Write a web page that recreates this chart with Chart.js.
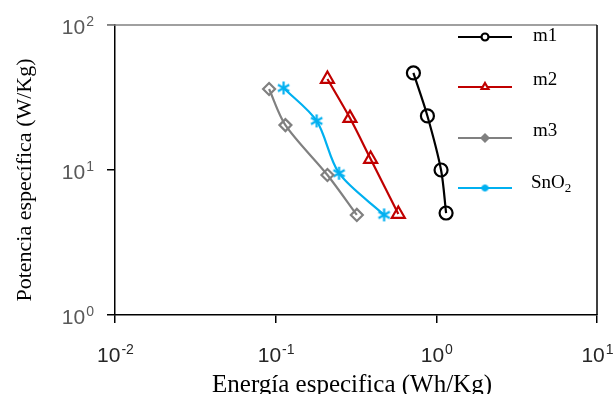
<!DOCTYPE html>
<html lang="es">
<head>
<meta charset="UTF-8">
<title>Ragone</title>
<script src="https://cdn.jsdelivr.net/npm/chart.js"></script>
<style>
  html, body { margin: 0; padding: 0; background: #fff; }
  #wrap { width: 614px; height: 394px; position: relative; }
</style>
</head>
<body>
<div id="wrap"><canvas id="ragone"></canvas></div>
<script>
// energy (Wh/Kg) and power (W/Kg) for each sample
const seriesNames = ['m1', 'm2', 'm3', 'SnO2'];
const m1Energy = [0.72, 0.88, 1.07, 1.15];
const m1Power = [46.7, 23.6, 10.0, 5.05];
const m2Energy = [0.21, 0.29, 0.39, 0.58];
const m2Power = [42.4, 22.8, 11.9, 4.97];
const m3Energy = [0.091, 0.115, 0.21, 0.32];
const m3Power = [36.2, 20.4, 9.24, 4.9];
const snEnergy = [0.112, 0.18, 0.248, 0.473];
const snPower = [36.8, 21.8, 9.5, 4.9];

const xTicks = [0.01, 0.1, 1, 10];
const yTicks = [1, 10, 100];

function pts(xs, ys) {
    return xs.map((x, i) => ({ x: x, y: ys[i] }));
}

// asterisk marker (vertical bar + two diagonals)
function asterisk(size, color, lw) {
    const c = document.createElement('canvas');
    c.width = size; c.height = size;
    const g = c.getContext('2d');
    const m = size / 2, r = size / 2 - 1;
    g.strokeStyle = color;
    g.lineWidth = lw;
    g.beginPath();
    g.moveTo(m, m - r); g.lineTo(m, m + r);
    g.moveTo(m - r * 0.87, m - r * 0.5); g.lineTo(m + r * 0.87, m + r * 0.5);
    g.moveTo(m - r * 0.87, m + r * 0.5); g.lineTo(m + r * 0.87, m - r * 0.5);
    g.stroke();
    return c;
}

const cyan = '#00B0F0';
const datasets = [
    { label: 'm1', data: pts(m1Energy, m1Power), borderColor: '#000000',
      pointStyle: 'circle', pointRadius: 6.5, tension: 0.3 },
    { label: 'm2', data: pts(m2Energy, m2Power), borderColor: '#C00000',
      pointStyle: 'triangle', pointRadius: 7.5, tension: 0.3 },
    { label: 'm3', data: pts(m3Energy, m3Power), borderColor: '#808080',
      pointStyle: 'rectRot', pointRadius: 6, tension: 0.3 },
    { label: 'SnO2', data: pts(snEnergy, snPower), borderColor: cyan,
      pointStyle: asterisk(15, cyan, 2.2), pointRadius: 7, tension: 0.3 }
].map(d => Object.assign({
    showLine: true,
    borderWidth: 2.2,
    pointBorderColor: d.borderColor,
    pointBackgroundColor: 'rgba(0,0,0,0)',
    pointBorderWidth: 2.2
}, d));

const baseFont = '21px "Liberation Sans", Arial, sans-serif';
const supFont = '14px "Liberation Sans", Arial, sans-serif';

// tick labels as 10 with a superscript exponent
function powerLabel(g, v, x, y, align, color) {
    const exp = String(Math.round(Math.log10(v)));
    g.save();
    g.fillStyle = color;
    g.textBaseline = 'alphabetic';
    g.textAlign = 'left';
    g.font = baseFont;
    const wb = g.measureText('10').width;
    g.font = supFont;
    const we = g.measureText(exp).width;
    let x0 = x;
    if (align === 'center') x0 = x - (wb + we) / 2;
    if (align === 'right') x0 = x - wb - we;
    g.font = baseFont;
    g.fillText('10', x0, y);
    g.font = supFont;
    g.fillText(exp, x0 + wb + 1, y - 8);
    g.restore();
}

const decor = {
    id: 'decor',
    afterDraw(chart) {
        const g = chart.ctx;
        const a = chart.chartArea;
        const xs = chart.scales.x, ys = chart.scales.y;

        // frame: gray top, black right
        g.save();
        g.lineWidth = 1.5;
        g.strokeStyle = '#808080';
        g.beginPath(); g.moveTo(a.left - 8, a.top); g.lineTo(a.right, a.top); g.stroke();
        g.strokeStyle = '#000';
        g.beginPath(); g.moveTo(a.right, a.top); g.lineTo(a.right, a.bottom); g.stroke();
        g.restore();

        xTicks.forEach(v => powerLabel(g, v, xs.getPixelForValue(v), a.bottom + 47, 'center', '#262626'));
        yTicks.forEach(v => powerLabel(g, v, a.left - 22, ys.getPixelForValue(v) + 9, 'right', '#595959'));

        // axis titles
        g.save();
        g.fillStyle = '#000';
        g.textAlign = 'center';
        g.textBaseline = 'alphabetic';
        g.font = '25px "Liberation Serif", "Times New Roman", serif';
        g.fillText('Energía especifica (Wh/Kg)', 352, 392);
        g.font = '22px "Liberation Serif", "Times New Roman", serif';
        g.translate(31, 180);
        g.rotate(-Math.PI / 2);
        g.fillText('Potencia específica (W/Kg)', 0, 0);
        g.restore();

        // legend
        const rows = [37, 87, 138, 188];
        const textY = [36, 80, 131, 183];
        chart.data.datasets.forEach((d, i) => {
            const y = rows[i];
            g.save();
            g.strokeStyle = d.borderColor;
            g.lineWidth = 2.2;
            g.beginPath(); g.moveTo(458, y); g.lineTo(512, y); g.stroke();
            let style = d.pointStyle;
            if (i === 3) style = asterisk(9, cyan, 2.6);
            g.fillStyle = i === 2 ? d.borderColor : '#fff';
            Chart.helpers.drawPoint(g, {
                pointStyle: style, rotation: 0, radius: i === 1 ? 4 : 3.5,
                borderWidth: 2
            }, 485, y);
            g.fillStyle = '#000';
            g.font = '19px "Liberation Serif", "Times New Roman", serif';
            g.textBaseline = 'middle';
            g.textAlign = 'left';
            if (seriesNames[i] === 'SnO2') {
                g.fillText('SnO', 531, textY[i]);
                const w = g.measureText('SnO').width;
                g.font = '13px "Liberation Serif", "Times New Roman", serif';
                g.fillText('2', 531 + w, textY[i] + 6);
            } else {
                g.fillText(seriesNames[i], 533, textY[i]);
            }
            g.restore();
        });
    }
};

new Chart(document.getElementById('ragone'), {
    type: 'scatter',
    data: { datasets: datasets },
    options: {
        responsive: true,
        maintainAspectRatio: false,
        animation: false,
        layout: { padding: { left: 107, right: 17, top: 25, bottom: 71 } },
        plugins: { legend: { display: false }, tooltip: { enabled: false } },
        scales: {
            x: {
                type: 'logarithmic', min: 0.01, max: 10,
                afterBuildTicks: s => { s.ticks = xTicks.map(v => ({ value: v })); },
                afterFit: s => { s.height = 8; },
                ticks: { display: false },
                border: { color: '#000', width: 1.5 },
                grid: { drawOnChartArea: false, drawTicks: true, tickLength: 8, color: '#000', lineWidth: 1.5 }
            },
            y: {
                type: 'logarithmic', min: 1, max: 100,
                afterBuildTicks: s => { s.ticks = yTicks.map(v => ({ value: v })); },
                afterFit: s => { s.width = 8; },
                ticks: { display: false },
                border: { color: '#000', width: 1.5 },
                grid: {
                    drawOnChartArea: false, drawTicks: true, tickLength: 8, lineWidth: 1.5,
                    color: c => (c.tick && c.tick.value === 100 ? '#808080' : '#000')
                }
            }
        }
    },
    plugins: [decor]
});
</script>
</body>
</html>
